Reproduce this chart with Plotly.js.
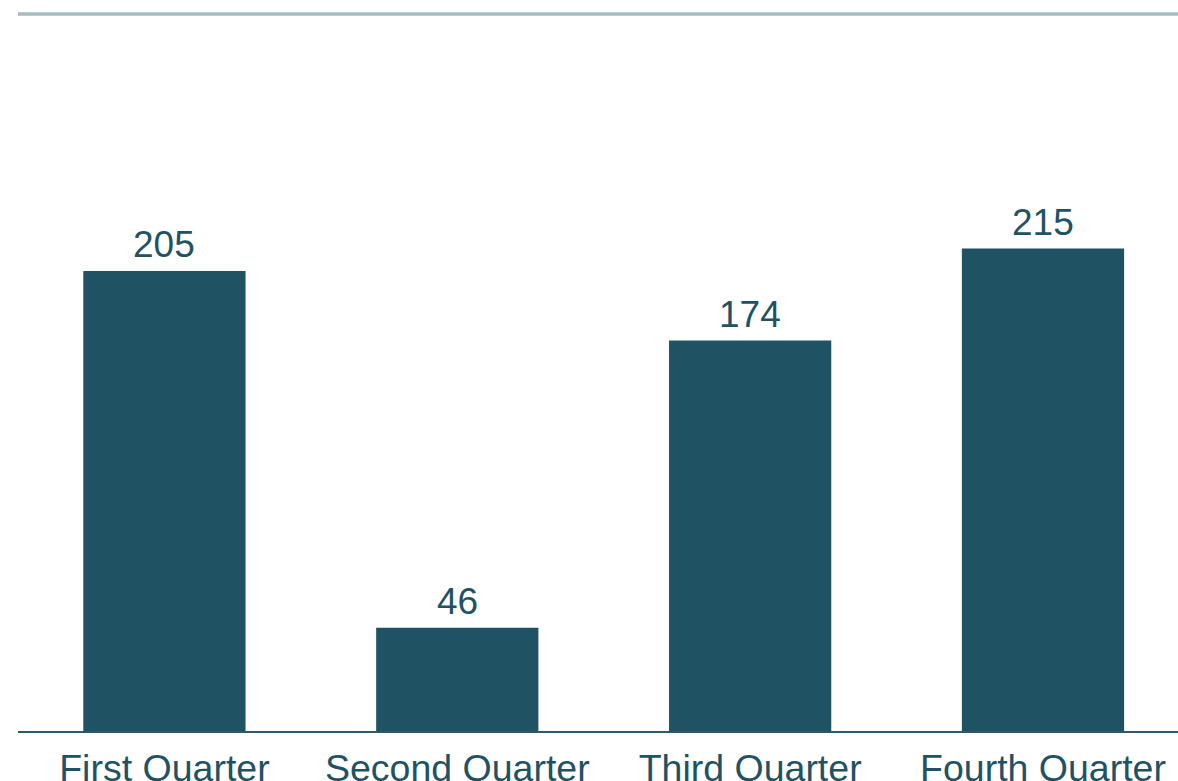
<!DOCTYPE html>
<html>
<head>
<meta charset="utf-8">
<script src="https://cdn.plot.ly/plotly-3.0.1.min.js"></script>
<style>html,body{margin:0;padding:0;background:#fff;}#chart{width:1178px;height:781px;}</style>
</head>
<body>
<div id="chart"></div>
<script>
const categories = ["First Quarter", "Second Quarter", "Third Quarter", "Fourth Quarter"];
const values = [205, 46, 174, 215];
const valueLabels = ["205", "46", "174", "215"];

const barColor = "#1f5263";
const trace = {
  type: "bar",
  x: categories,
  y: values,
  marker: {color: barColor},
  width: 0.554,
  cliponaxis: false,
  hoverinfo: "none"
};
const annotations = categories.map((c, i) => ({
  x: c, y: values[i], xref: "x", yref: "y",
  text: valueLabels[i], showarrow: false,
  xanchor: "center", yanchor: "bottom", yshift: 4,
  font: {family: "Liberation Sans, Arial, sans-serif", size: 37, color: barColor}
}));
const layout = {
  width: 1178, height: 781,
  margin: {l: 18, r: 0, t: 14, b: 50},
  paper_bgcolor: "#ffffff", plot_bgcolor: "#ffffff",
  showlegend: false,
  font: {family: "Liberation Sans, Arial, sans-serif", size: 37, color: barColor},
  xaxis: {
    range: [-0.5, 3.461],
    showline: true, linecolor: "#2c5a6a", linewidth: 1.5,
    ticks: "", showgrid: false, zeroline: false,
    ticklabelstandoff: 3,
    tickfont: {size: 37.5, color: barColor}
  },
  yaxis: {
    range: [0, 319.5], visible: false, showgrid: false, zeroline: false
  },
  annotations: annotations,
  shapes: [{
    type: "line", xref: "paper", yref: "paper", x0: 0, x1: 1, y0: 1, y1: 1,
    line: {color: "#a7bbc2", width: 3.5}
  }]
};
Plotly.newPlot("chart", [trace], layout, {staticPlot: true});
</script>
</body>
</html>
